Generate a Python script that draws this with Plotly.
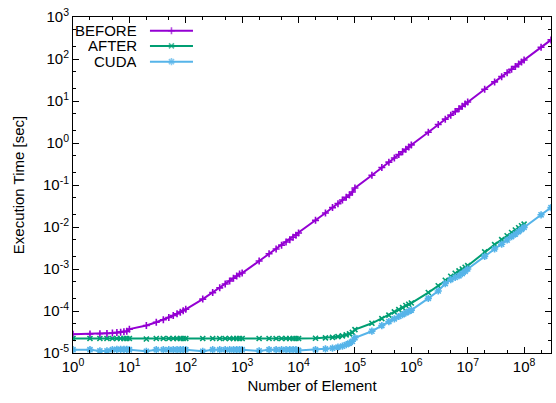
import plotly.graph_objects as go

# ---------------- data ----------------
n_before = [1, 2, 3, 4, 5, 6, 7, 8, 9,
            10, 20, 30, 40, 50, 60, 70, 80, 90,
            100, 200, 300, 400, 500, 600, 700, 800, 900,
            1e3, 2e3, 3e3, 4e3, 5e3, 6e3, 7e3, 8e3, 9e3,
            1e4, 2e4, 3e4, 4e4, 5e4, 6e4, 7e4, 8e4, 9e4,
            1e5, 2e5, 3e5, 4e5, 5e5, 6e5, 7e5, 8e5, 9e5,
            1e6, 2e6, 3e6, 4e6, 5e6, 6e6, 7e6, 8e6, 9e6,
            1e7, 2e7, 3e7, 4e7, 5e7, 6e7, 7e7, 8e7, 9e7,
            1e8, 2e8, 3e8]
t_before = [2.80e-5, 2.83e-5, 2.87e-5, 2.92e-5, 2.99e-5, 3.06e-5, 3.14e-5, 3.22e-5, 3.30e-5,
            3.7e-5, 4.5e-5, 5.4e-5, 6.2e-5, 7.0e-5, 7.8e-5, 8.6e-5, 9.4e-5, 1.02e-4,
            1.10e-4, 1.92e-4, 2.74e-4, 3.56e-4, 4.38e-4, 5.2e-4, 6.0e-4, 6.8e-4, 7.6e-4,
            8.0e-4, 1.55e-3, 2.3e-3, 3.0e-3, 3.7e-3, 4.4e-3, 5.0e-3, 5.7e-3, 6.4e-3,
            7.2e-3, 1.44e-2, 2.15e-2, 2.9e-2, 3.6e-2, 4.4e-2, 5.1e-2, 5.8e-2, 6.8e-2,
            0.085, 0.17, 0.26, 0.35, 0.44, 0.53, 0.62, 0.71, 0.80,
            0.90, 1.8, 2.75, 3.7, 4.6, 5.6, 6.5, 7.5, 8.5,
            9.5, 19, 28.5, 38, 47, 57, 66, 76, 85,
            95, 190, 285]

n_after = [1, 2, 3, 4, 5, 6, 7, 8, 9,
           10, 20, 30, 40, 50, 60, 70, 80, 90,
           100, 200, 300, 400, 500, 600, 700, 800, 900,
           1e3, 2e3, 3e3, 4e3, 5e3, 6e3, 7e3, 8e3, 9e3,
           1e4, 2e4, 3e4, 4e4, 5e4, 6e4, 7e4, 8e4, 9e4,
           1e5, 2e5, 3e5, 4e5, 5e5, 6e5, 7e5, 8e5, 9e5,
           1e6, 2e6, 3e6, 4e6, 5e6, 6e6, 7e6, 8e6, 9e6,
           1e7, 2e7, 3e7, 4e7, 5e7, 6e7, 7e7, 8e7, 9e7,
           1e8]
t_after = [2.22e-5, 2.22e-5, 2.22e-5, 2.22e-5, 2.22e-5, 2.22e-5, 2.22e-5, 2.22e-5, 2.22e-5,
           2.22e-5, 2.15e-5, 2.22e-5, 2.22e-5, 2.22e-5, 2.22e-5, 2.22e-5, 2.22e-5, 2.22e-5,
           2.22e-5, 2.22e-5, 2.22e-5, 2.22e-5, 2.22e-5, 2.22e-5, 2.22e-5, 2.22e-5, 2.22e-5,
           2.22e-5, 2.22e-5, 2.22e-5, 2.22e-5, 2.22e-5, 2.22e-5, 2.22e-5, 2.22e-5, 2.22e-5,
           2.22e-5, 2.25e-5, 2.3e-5, 2.35e-5, 2.45e-5, 2.55e-5, 2.7e-5, 2.85e-5, 3.1e-5,
           3.6e-5, 5.1e-5, 6.6e-5, 8.0e-5, 9.5e-5, 1.08e-4, 1.2e-4, 1.35e-4, 1.45e-4,
           1.55e-4, 2.75e-4, 4.0e-4, 5.4e-4, 6.7e-4, 7.9e-4, 9.0e-4, 1.0e-3, 1.1e-3,
           1.2e-3, 2.55e-3, 3.8e-3, 5.0e-3, 6.2e-3, 7.4e-3, 8.5e-3, 9.6e-3, 1.07e-2,
           1.17e-2]

n_cuda = n_before
t_cuda = [1.2e-5, 1.2e-5, 1.12e-5, 1.12e-5, 1.2e-5, 1.22e-5, 1.22e-5, 1.22e-5, 1.22e-5,
          1.2e-5, 1.1e-5, 1.2e-5, 1.2e-5, 1.2e-5, 1.2e-5, 1.2e-5, 1.2e-5, 1.2e-5,
          1.2e-5, 1.1e-5, 1.2e-5, 1.2e-5, 1.2e-5, 1.2e-5, 1.2e-5, 1.2e-5, 1.2e-5,
          1.2e-5, 1.12e-5, 1.2e-5, 1.2e-5, 1.2e-5, 1.2e-5, 1.2e-5, 1.2e-5, 1.2e-5,
          1.15e-5, 1.2e-5, 1.25e-5, 1.3e-5, 1.38e-5, 1.45e-5, 1.58e-5, 1.72e-5, 1.9e-5,
          2.3e-5, 3.3e-5, 4.5e-5, 5.6e-5, 6.5e-5, 7.4e-5, 8.2e-5, 9.0e-5, 9.8e-5,
          1.05e-4, 2.0e-4, 3.0e-4, 4.5e-4, 5.6e-4, 6.3e-4, 6.9e-4, 7.8e-4, 8.8e-4,
          1.0e-3, 2.0e-3, 3.0e-3, 3.9e-3, 4.9e-3, 5.9e-3, 6.8e-3, 7.8e-3, 8.8e-3,
          9.8e-3, 1.95e-2, 2.9e-2]

series_names = ["BEFORE", "AFTER", "CUDA"]
series_colors = ["#9400D3", "#009E73", "#56B4E9"]
series_symbols = ["cross-thin-open", "x-thin-open", "asterisk-open"]
series_sizes = [5, 5, 6]

x_tickvals = [1, 10, 100, 1e3, 1e4, 1e5, 1e6, 1e7, 1e8]
x_ticktext = ["10<sup>0</sup>", "10<sup>1</sup>", "10<sup>2</sup>", "10<sup>3</sup>", "10<sup>4</sup>",
              "10<sup>5</sup>", "10<sup>6</sup>", "10<sup>7</sup>", "10<sup>8</sup>"]
y_tickvals = [1e-5, 1e-4, 1e-3, 1e-2, 1e-1, 1, 10, 100, 1000]
y_ticktext = ["10<sup>-5</sup>", "10<sup>-4</sup>", "10<sup>-3</sup>", "10<sup>-2</sup>", "10<sup>-1</sup>",
              "10<sup>0</sup>", "10<sup>1</sup>", "10<sup>2</sup>", "10<sup>3</sup>"]
x_range = [1, 3e8]
y_range = [1e-5, 1e3]

FONT = "Liberation Sans, Arial, sans-serif"

fig = go.Figure()
xs = [n_before, n_after, n_cuda]
ys = [t_before, t_after, t_cuda]
for name, xv, yv, col, sym, sz in zip(series_names, xs, ys, series_colors, series_symbols, series_sizes):
    fig.add_trace(go.Scatter(
        x=xv, y=yv, name=name, mode="lines+markers",
        line=dict(color=col, width=2),
        marker=dict(symbol=sym, size=sz, color=col, line=dict(color=col, width=1.6)),
        showlegend=False, cliponaxis=True))

# custom gnuplot-style key (text on the left, sample on the right)
key_y = [0.959, 0.914, 0.867]
for name, ky, col, sym, sz in zip(series_names, key_y, series_colors, series_symbols, series_sizes):
    fig.add_trace(go.Scatter(
        x=[0.161, 0.206, 0.251], y=[ky, ky, ky], xaxis="x2", yaxis="y2",
        mode="lines+markers", line=dict(color=col, width=2),
        marker=dict(symbol=sym, size=[0, sz, 0], color=col, line=dict(color=col, width=1.6)),
        showlegend=False, hoverinfo="skip"))
    fig.add_annotation(x=0.137, y=ky, xref="paper", yref="paper", text=name,
                       showarrow=False, xanchor="right", yanchor="middle",
                       height=15, borderpad=0,
                       font=dict(family=FONT, size=15, color="black"))

axis_common = dict(
    type="log", showgrid=False, zeroline=False,
    showline=True, linecolor="black", linewidth=1, mirror="ticks",
    ticks="inside", ticklen=6, tickcolor="black", tickwidth=1,
    tickfont=dict(family=FONT, size=15, color="black"),
    minor=dict(ticks="inside", ticklen=3, tickcolor="black", tickwidth=1, showgrid=False),
)

fig.update_layout(
    width=556, height=403,
    margin=dict(l=73, r=5, t=17, b=50),
    paper_bgcolor="white", plot_bgcolor="white",
    font=dict(family=FONT, size=15, color="black"),
    xaxis=dict(axis_common, range=[0, 8.4771], tickvals=x_tickvals, ticktext=x_ticktext,
               title=dict(text="Number of Element", font=dict(family=FONT, size=15), standoff=6)),
    yaxis=dict(axis_common, range=[-5, 3], tickvals=y_tickvals, ticktext=y_ticktext,
               title=dict(text="Execution Time [sec]", font=dict(family=FONT, size=15), standoff=14)),
    xaxis2=dict(overlaying="x", range=[0, 1], visible=False),
    yaxis2=dict(overlaying="y", range=[0, 1], visible=False),
)

fig.write_html("out.html")
